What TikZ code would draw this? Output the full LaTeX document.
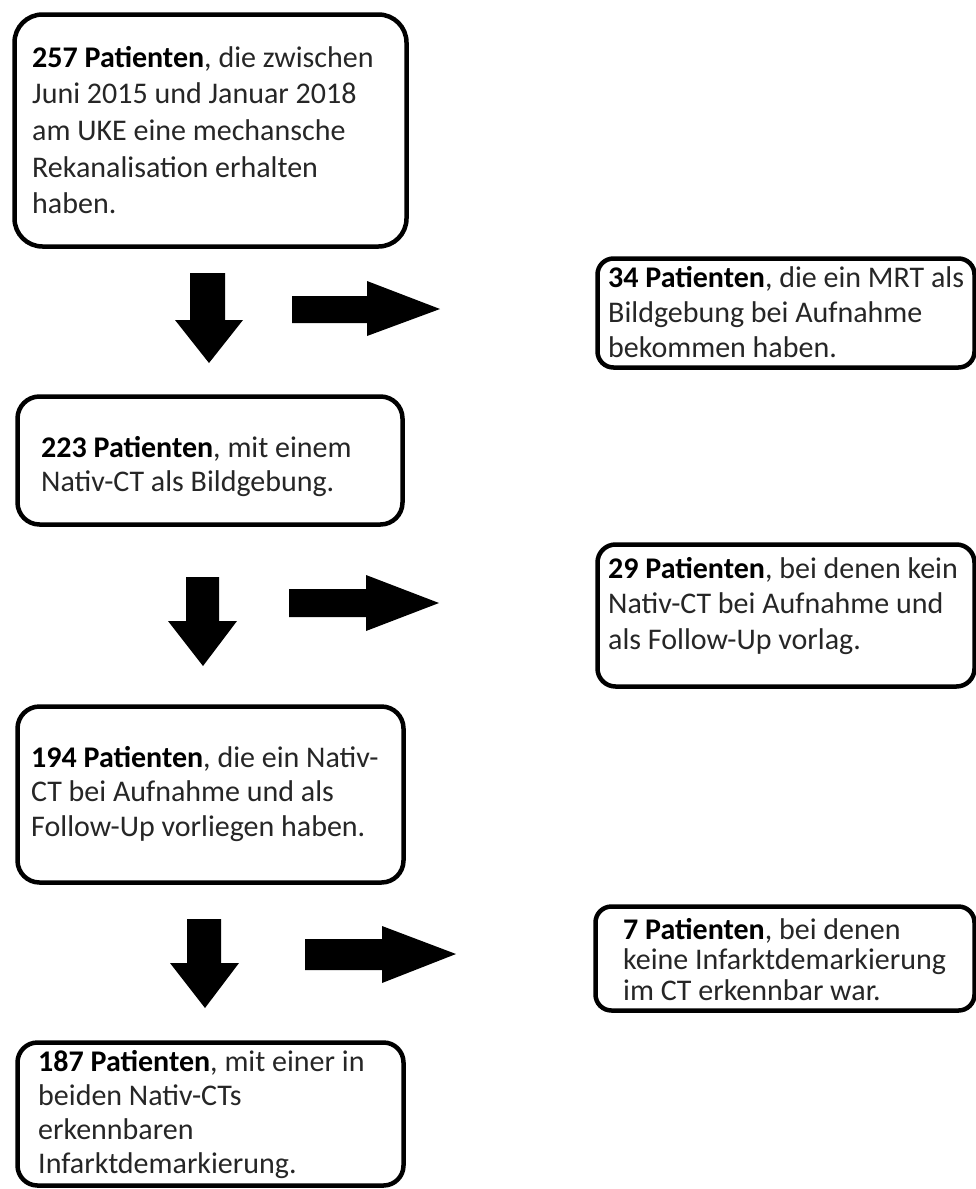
\documentclass[tikz,border=0pt]{standalone}
\usepackage{fontspec}
\setmainfont{Carlito}
\definecolor{txtgray}{HTML}{262626}
\tikzset{
  flowbox/.style={draw=black, line width=4.5pt, rounded corners=#1, anchor=north west, inner sep=0pt, fill=white},
  flowbox/.default=16pt,
  flowtext/.style={anchor=base west, inner sep=0pt, text=txtgray, font=\fontsize{30}{#1}\selectfont},
  flowtext/.default=36.5,
  blockarrow/.style={fill=black, draw=none}
}
\begin{document}
\begin{tikzpicture}[x=1pt,y=-1pt]
\useasboundingbox (0,0) rectangle (976,1189);

% boxes (outer edges minus half line width)
\node[flowbox=28pt, minimum width=392pt, minimum height=232pt] (b1) at (12.25,12.25) {};
\node[flowbox=16pt, minimum width=377pt, minimum height=109pt] (b34) at (595.25,256.25) {};
\node[flowbox=22pt, minimum width=385pt, minimum height=128pt] (b223) at (15.25,394.25) {};
\node[flowbox=18pt, minimum width=377pt, minimum height=142pt] (b29) at (595.25,542.25) {};
\node[flowbox=22pt, minimum width=386pt, minimum height=176pt] (b194) at (15.25,704.25) {};
\node[flowbox=16pt, minimum width=379pt, minimum height=104pt] (b7) at (593.25,904.25) {};
\node[flowbox=20pt, minimum width=386pt, minimum height=143pt] (b187) at (15.25,1040.25) {};

% texts
\node[flowtext=36.7] (t1) at (32,67) {\parbox[t]{370pt}{\textcolor{black}{\textbf{257 Patienten}}, die zwischen\\Juni 2015 und Januar 2018\\am UKE eine mechansche\\Rekanalisation erhalten\\haben.}};
\node[flowtext=35] (t34) at (608,287) {\parbox[t]{365pt}{\textcolor{black}{\textbf{34 Patienten}}, die ein MRT als\\Bildgebung bei Aufnahme\\bekommen haben.}};
\node[flowtext=34.5] (t223) at (41,457) {\parbox[t]{360pt}{\textcolor{black}{\textbf{223 Patienten}}, mit einem\\Nativ-CT als Bildgebung.}};
\node[flowtext=35.5] (t29) at (608,578) {\parbox[t]{365pt}{\textcolor{black}{\textbf{29 Patienten}}, bei denen kein\\Nativ-CT bei Aufnahme und\\als Follow-Up vorlag.}};
\node[flowtext=34.5] (t194) at (31,767) {\parbox[t]{370pt}{\textcolor{black}{\textbf{194 Patienten}}, die ein Nativ-\\CT bei Aufnahme und als\\Follow-Up vorliegen haben.}};
\node[flowtext=30.5] (t7) at (623,939) {\parbox[t]{350pt}{\textcolor{black}{\textbf{7 Patienten}}, bei denen\\keine Infarktdemarkierung\\im CT erkennbar war.}};
\node[flowtext=34] (t187) at (38,1071) {\parbox[t]{360pt}{\textcolor{black}{\textbf{187 Patienten}}, mit einer in\\beiden Nativ-CTs\\erkennbaren\\Infarktdemarkierung.}};

% block arrows (down)
\fill[blockarrow] (190,273) -- (225,273) -- (225,320) -- (243,320) -- (209,363) -- (175,320) -- (190,320) -- cycle;
\fill[blockarrow] (186,577) -- (219,577) -- (219,621) -- (237,621) -- (203,666) -- (168,621) -- (186,621) -- cycle;
\fill[blockarrow] (187,919) -- (221,919) -- (221,963) -- (239,963) -- (205,1008) -- (170,963) -- (187,963) -- cycle;
% block arrows (right)
\fill[blockarrow] (292,296) -- (367,296) -- (367,281) -- (440,309) -- (367,336) -- (367,323) -- (292,323) -- cycle;
\fill[blockarrow] (289,589) -- (366,589) -- (366,575) -- (439,603) -- (366,631) -- (366,617) -- (289,617) -- cycle;
\fill[blockarrow] (305,939) -- (382,939) -- (382,926) -- (456,954) -- (382,983) -- (382,970) -- (305,970) -- cycle;
\end{tikzpicture}
\end{document}
